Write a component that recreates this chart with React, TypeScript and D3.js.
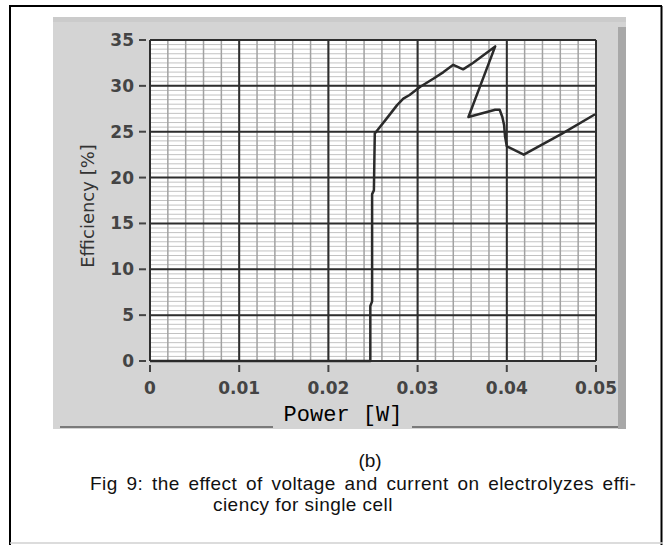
import React from 'react';
import * as d3 from 'd3';

// power [W] and efficiency [%]
const powerW = [
  0, 0.0247, 0.0247, 0.0249, 0.0249, 0.0251, 0.0252, 0.0256, 0.0265, 0.0277,
  0.0284, 0.0291, 0.0303, 0.0318, 0.0329, 0.034, 0.0351, 0.0362, 0.0387,
  0.0357, 0.0387, 0.0392, 0.0395, 0.0397, 0.0398, 0.04, 0.0419, 0.0462, 0.0499,
];
const efficiencyPct = [
  0, 0, 6, 6.5, 18.2, 18.6, 24.8, 25.3, 26.4, 27.9,
  28.6, 29.0, 29.9, 30.8, 31.5, 32.3, 31.8, 32.5, 34.3,
  26.6, 27.4, 27.4, 26.6, 25.7, 24.5, 23.4, 22.5, 24.8, 26.9,
];

const xTicks = [0, 0.01, 0.02, 0.03, 0.04, 0.05];
const xTickLabels = ['0', '0.01', '0.02', '0.03', '0.04', '0.05'];
const yTicks = [0, 5, 10, 15, 20, 25, 30, 35];
const xTitle = 'Power [W]';
const yTitle = 'Efficiency [%]';
const subLabel = '(b)';
const captionLines = [
  'Fig 9: the effect of voltage and current on electrolyzes effi-',
  'ciency for single cell',
];

export default function App() {
  const width = 663;
  const height = 545;
  const left = 150, right = 596, top = 40, bottom = 361;

  const x = d3.scaleLinear().domain([0, 0.05]).range([left, right]);
  const y = d3.scaleLinear().domain([0, 35]).range([bottom, top]);

  const minorX = d3.range(0, 0.05 + 1e-9, 0.002);
  const minorY = d3.range(0, 35 + 1e-9, 0.5);

  const line = d3
    .line<number>()
    .x((d) => x(d))
    .y((d, i) => y(efficiencyPct[i]));

  const tickFont = '"DejaVu Sans", sans-serif';

  return (
    <svg
      width={width}
      height={height}
      style={{ position: 'absolute', left: 0, top: 0, background: '#fff' }}
    >
      {/* page frame */}
      <line x1={10} x2={10} y1={6} y2={545} stroke="#000" strokeWidth={2} />
      <line x1={9} x2={662} y1={6} y2={6} stroke="#000" strokeWidth={2} />
      <line x1={661.5} x2={661.5} y1={6} y2={545} stroke="#000" strokeWidth={2} />
      <line x1={10} x2={663} y1={543} y2={543} stroke="#d0d0d0" strokeWidth={1.5} />

      {/* gray graph panel */}
      <rect x={53} y={17} width={573} height={412} fill="#d4d4d4" />
      <rect x={53} y={17} width={573} height={5} fill="#cbcbcb" />
      <rect x={618} y={27} width={8} height={402} fill="#a8a8a8" />
      <line x1={60} x2={273} y1={427} y2={427} stroke="#7a7a7a" strokeWidth={2} />
      <line x1={412} x2={618} y1={427} y2={427} stroke="#7a7a7a" strokeWidth={2} />

      {/* plot area */}
      <rect x={left} y={top} width={right - left} height={bottom - top} fill="#fff" />
      <g stroke="#c2c2c2" strokeWidth={1}>
        {minorY.map((v) => (
          <line key={'my' + v} x1={left} x2={right} y1={y(v)} y2={y(v)} />
        ))}
      </g>
      <g stroke="#a2a2a2" strokeWidth={1.5}>
        {minorX.map((v) => (
          <line key={'mx' + v} x1={x(v)} x2={x(v)} y1={top} y2={bottom} />
        ))}
      </g>
      <g stroke="#2e2e2e" strokeWidth={2}>
        {yTicks.map((v) => (
          <line key={'gy' + v} x1={left} x2={right} y1={y(v)} y2={y(v)} />
        ))}
        {xTicks.map((v) => (
          <line key={'gx' + v} x1={x(v)} x2={x(v)} y1={top} y2={bottom} />
        ))}
      </g>

      {/* curve */}
      <path d={line(powerW) || ''} fill="none" stroke="#2a2a2a" strokeWidth={2.5} strokeLinejoin="round" />

      {/* y axis */}
      <g fontFamily={tickFont} fontSize={17} fontWeight="bold" fill="#444">
        {yTicks.map((v) => (
          <g key={'ty' + v}>
            <line x1={139} x2={146} y1={y(v)} y2={y(v)} stroke="#444" strokeWidth={2} />
            <text x={134} y={y(v)} textAnchor="end" dominantBaseline="central">
              {v}
            </text>
          </g>
        ))}
      </g>
      <text
        transform={`translate(94,206) rotate(-90)`}
        textAnchor="middle"
        fontFamily={tickFont}
        fontSize={18}
        fill="#333"
      >
        {yTitle}
      </text>

      {/* x axis */}
      <g fontFamily={tickFont} fontSize={17} fontWeight="bold" fill="#444">
        {xTicks.map((v, i) => (
          <g key={'tx' + v}>
            <line x1={x(v)} x2={x(v)} y1={365} y2={372} stroke="#444" strokeWidth={2} />
            <text x={x(v)} y={394} textAnchor="middle">
              {xTickLabels[i]}
            </text>
          </g>
        ))}
      </g>
      <text x={343} y={421} textAnchor="middle" fontFamily='"Liberation Mono", monospace' fontSize={22} fill="#000">
        {xTitle}
      </text>

      {/* caption */}
      <g fontFamily='"Liberation Sans", Arial, sans-serif' fontSize={19} fill="#111">
        <text x={370} y={467} textAnchor="middle">{subLabel}</text>
        <text x={90} y={490} wordSpacing={3} letterSpacing={0.45}>{captionLines[0]}</text>
        <text x={213} y={511} letterSpacing={0.45}>{captionLines[1]}</text>
      </g>
    </svg>
  );
}
